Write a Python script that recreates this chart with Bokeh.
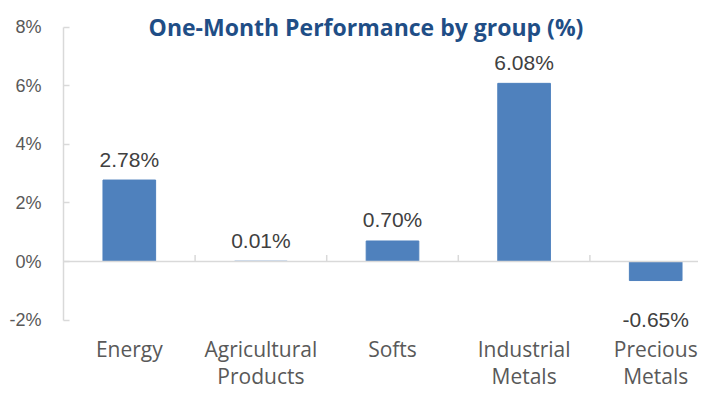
from bokeh.plotting import figure
from bokeh.models import (Range1d, LinearAxis, FixedTicker, PrintfTickFormatter,
                          Label, Span, ColumnDataSource)
from bokeh.core.properties import value
from bokeh.embed import file_html
from bokeh.resources import INLINE

# ---------------- data ----------------
title = "One-Month Performance by group (%)"
categories = ["Energy", "Agricultural\nProducts", "Softs", "Industrial\nMetals", "Precious\nMetals"]
values = [2.78, 0.01, 0.70, 6.08, -0.65]
value_labels = ["2.78%", "0.01%", "0.70%", "6.08%", "-0.65%"]
y_ticks = [-2, 0, 2, 4, 6, 8]

# ---------------- layout ----------------
W, H = 698, 389
LEFT = 63            # plot frame left edge (px)
PX_PER_CAT = 131.6   # px per category slot
PX_PER_UNIT = 29.3   # px per 1 percentage point
ZERO_PX = 261.0      # zero line distance from canvas top (px)

x_end = (W - LEFT) / PX_PER_CAT
y_end = ZERO_PX / PX_PER_UNIT
y_start = -(H - ZERO_PX) / PX_PER_UNIT

BAR = "#4F81BD"
GRID = "#D9D9D9"
TXT = "#595959"

p = figure(width=W, height=H, x_range=Range1d(0, x_end), y_range=Range1d(y_start, y_end),
           output_backend="svg", toolbar_location=None, x_axis_type=None, y_axis_type=None,
           min_border_left=LEFT, min_border_right=0, min_border_top=0, min_border_bottom=0,
           outline_line_color=None, background_fill_color="white", border_fill_color="white")

yaxis = LinearAxis(bounds=(min(y_ticks), max(y_ticks)), ticker=FixedTicker(ticks=y_ticks),
                   formatter=PrintfTickFormatter(format="%d%%"))
yaxis.axis_line_color = GRID
yaxis.axis_line_width = 1.5
yaxis.major_tick_line_color = GRID
yaxis.major_tick_line_width = 1.5
yaxis.major_tick_in = 6
yaxis.major_tick_out = 0
yaxis.minor_tick_line_color = None
yaxis.major_label_standoff = 22
yaxis.major_label_text_font = "Liberation Sans"
yaxis.major_label_text_font_size = "18px"
yaxis.major_label_text_color = TXT
p.add_layout(yaxis, "left")

# zero line with category separators
p.add_layout(Span(location=0, dimension="width", line_color=GRID, line_width=1.5))
sep = list(range(1, len(categories)))
tick_len = 6.5 / PX_PER_UNIT
p.segment(x0=sep, y0=[0] * len(sep), x1=sep, y1=[tick_len] * len(sep),
          line_color=GRID, line_width=1.5)

xs = [i + 0.5 for i in range(len(categories))]
p.vbar(x=xs, top=values, bottom=0, width=0.4, fill_color=BAR, line_color=BAR)

src = ColumnDataSource(dict(x=xs, y=values, t=value_labels,
                            off=[-21 if v >= 0 else 39 for v in values]))
p.text(x="x", y="y", text="t", y_offset="off", source=src, text_align="center",
       text_baseline="alphabetic", text_font=value("Liberation Sans"),
       text_font_size="21px", text_color="#404040")

row1 = [c.split("\n")[0] for c in categories]
row2 = [c.split("\n")[1] if "\n" in c else "" for c in categories]
ymin = min(y_ticks)
for row, off in ((row1, 29), (row2, 56)):
    p.text(x=xs, y=[ymin] * len(xs), text=row, y_offset=off, text_align="center",
           text_baseline="alphabetic", text_font=value("Open Sans"),
           text_font_size="21px", text_color=TXT)

p.add_layout(Label(x=x_end / 2, y=y_end, x_offset=-15, y_offset=-26, text=title,
                   text_align="center", text_baseline="alphabetic", text_font="Open Sans",
                   text_font_style="bold", text_font_size="23px", text_color="#1F4E86"))

open("out.html", "w").write(file_html(p, INLINE))
